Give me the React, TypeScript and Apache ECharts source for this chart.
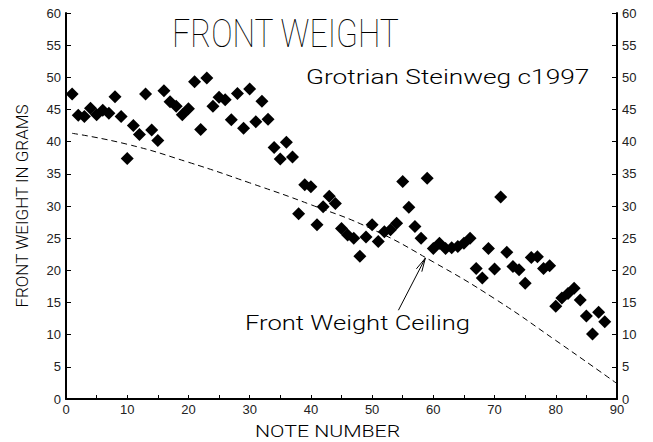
import React, { useEffect, useRef } from "react";
import * as echarts from "echarts";

const notes = [
  1, 2, 3, 4, 5, 6, 7, 8, 9, 10, 11, 12, 13, 14, 15, 16, 17, 18, 19, 20, 21, 22,
  23, 24, 25, 26, 27, 28, 29, 30, 31, 32, 33, 34, 35, 36, 37, 38, 39, 40, 41, 42,
  43, 44, 45, 46, 47, 48, 49, 50, 51, 52, 53, 54, 55, 56, 57, 58, 59, 60, 61, 62,
  63, 64, 65, 66, 67, 68, 69, 70, 71, 72, 73, 74, 75, 76, 77, 78, 79, 80, 81, 82,
  83, 84, 85, 86, 87, 88,
];
const frontWeights = [
  47.4, 44.1, 43.9, 45.2, 44.2, 44.9, 44.4, 47.0, 43.9, 37.4, 42.5, 41.1, 47.4,
  41.8, 40.2, 47.9, 46.2, 45.5, 44.2, 45.1, 49.3, 41.9, 49.9, 45.5, 46.9, 46.5,
  43.4, 47.5, 42.1, 48.2, 43.1, 46.3, 43.5, 39.1, 37.3, 39.9, 37.6, 28.8, 33.3,
  33.0, 27.1, 29.9, 31.5, 30.4, 26.5, 25.5, 25.0, 22.2, 25.2, 27.1, 24.5, 26.0,
  26.3, 27.3, 33.8, 29.8, 26.8, 25.0, 34.3, 23.4, 24.2, 23.4, 23.5, 23.7, 24.2,
  25.0, 20.3, 18.8, 23.4, 20.2, 31.4, 22.8, 20.6, 20.1, 18.0, 22.0, 22.1, 20.3,
  20.7, 14.4, 15.7, 16.4, 17.2, 15.4, 12.9, 10.1, 13.5, 12.0,
];
const ceilingNotes = [1, 10, 20, 30, 40, 50, 60, 70, 80, 90];
const ceilingValues = [41.3, 39.6, 36.8, 33.6, 30.2, 26.4, 21.3, 15.6, 9.1, 2.4];

const titleText = "FRONT WEIGHT";
const subtitleText = "Grotrian Steinweg c1997";
const annotationText = "Front Weight Ceiling";
const xAxisName = "NOTE NUMBER";
const yAxisName = "FRONT WEIGHT IN GRAMS";
const arrowTail = [54.3, 13.8];
const arrowTip = [58.7, 21.9];

const FONT = "Liberation Sans, Arial, sans-serif";
const THIN = "Roboto, Liberation Sans, sans-serif";

export default function App() {
  const ref = useRef<HTMLDivElement>(null);
  useEffect(() => {
    if (!ref.current) return;
    const chart = echarts.init(ref.current, null, { renderer: "svg" });
    const yAxisBase = {
      type: "value",
      min: 0,
      max: 60,
      interval: 5,
      axisLine: { show: true, lineStyle: { color: "#000", width: 2 } },
      axisTick: { show: true, inside: true, length: 5, lineStyle: { color: "#000", width: 1 } },
      axisLabel: { color: "#222", fontSize: 13, fontFamily: FONT, margin: 5 },
      splitLine: { show: false },
    };
    chart.setOption({
      animation: false,
      backgroundColor: "#fff",
      grid: { left: 66, right: 36, top: 13, bottom: 43 },
      xAxis: {
        type: "value",
        min: 0,
        max: 90,
        interval: 10,
        axisLine: { show: true, lineStyle: { color: "#000", width: 2 } },
        axisTick: { show: true, inside: true, length: 4, lineStyle: { color: "#000", width: 1 } },
        minorTick: { show: true, splitNumber: 2, length: 4, lineStyle: { color: "#000", width: 1 } },
        axisLabel: { color: "#222", fontSize: 13, fontFamily: FONT, margin: 4 },
        splitLine: { show: false },
      },
      yAxis: [
        {
          ...yAxisBase,
          position: "left",
          name: yAxisName,
          nameLocation: "middle",
          nameGap: 36,
          nameTextStyle: { fontSize: 17, fontFamily: THIN, fontWeight: 300, color: "#000" },
        },
        { ...yAxisBase, position: "right" },
      ],
      series: [
        {
          type: "line",
          data: ceilingNotes.map((n, i) => [n, ceilingValues[i]]),
          smooth: true,
          symbol: "none",
          lineStyle: { color: "#000", width: 1, type: [6, 4] },
          z: 1,
        },
        {
          type: "scatter",
          data: notes.map((n, i) => [n, frontWeights[i]]),
          symbol: "diamond",
          symbolSize: 13,
          itemStyle: { color: "#000", opacity: 1 },
          z: 2,
        },
      ],
    });
    const t = chart.convertToPixel({ xAxisIndex: 0, yAxisIndex: 0 }, arrowTail) as number[];
    const p = chart.convertToPixel({ xAxisIndex: 0, yAxisIndex: 0 }, arrowTip) as number[];
    const ang = Math.atan2(t[1] - p[1], t[0] - p[0]);
    const hl = 14;
    const spread = 0.22;
    const h1 = [p[0] + hl * Math.cos(ang - spread), p[1] + hl * Math.sin(ang - spread)];
    const h2 = [p[0] + hl * Math.cos(ang + spread), p[1] + hl * Math.sin(ang + spread)];
    chart.setOption({
      graphic: [
        {
          type: "text",
          x: 172,
          y: 15,
          scaleX: 0.84,
          style: { text: titleText, fontSize: 38, fontFamily: THIN, fontWeight: 100, fill: "#000", verticalAlign: "top" },
        },
        {
          type: "text",
          x: 306,
          y: 66,
          scaleX: 1.25,
          style: { text: subtitleText, fontSize: 21, fontFamily: THIN, fontWeight: 300, fill: "#000", verticalAlign: "top" },
        },
        {
          type: "text",
          x: 245,
          y: 313,
          scaleX: 1.28,
          style: { text: annotationText, fontSize: 20, fontFamily: THIN, fontWeight: 300, fill: "#000", verticalAlign: "top" },
        },
        {
          type: "text",
          x: 255,
          y: 423,
          scaleX: 1.25,
          style: { text: xAxisName, fontSize: 17, fontFamily: THIN, fontWeight: 300, fill: "#000", verticalAlign: "top" },
        },
        {
          type: "line",
          shape: { x1: t[0], y1: t[1], x2: p[0], y2: p[1] },
          style: { stroke: "#000", lineWidth: 1 },
          z: 10,
        },
        {
          type: "polyline",
          shape: { points: [h1, p, h2] },
          style: { stroke: "#000", lineWidth: 1, fill: null },
          z: 10,
        },
      ],
    });
    return () => chart.dispose();
  }, []);
  return <div ref={ref} style={{ width: 653, height: 442, position: "absolute", left: 0, top: 0 }} />;
}
